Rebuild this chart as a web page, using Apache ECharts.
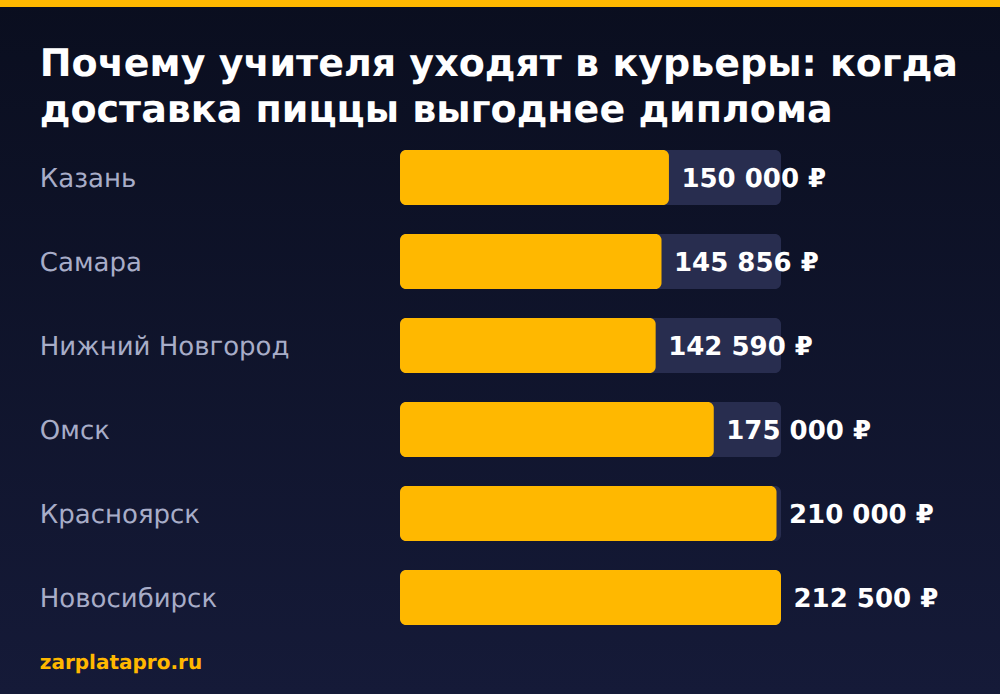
<!DOCTYPE html>
<html>
<head>
<meta charset="utf-8">
<style>html,body{margin:0;padding:0;background:#0a0e1f;}#chart{width:1000px;height:694px;text-rendering:geometricPrecision;}</style>
<script src="https://cdn.jsdelivr.net/npm/echarts@6/dist/echarts.min.js"></script>
</head>
<body>
<div id="chart"></div>
<script>
var titleLines = ['Почему учителя уходят в курьеры: когда', 'доставка пиццы выгоднее диплома'];
var cities = ['Казань', 'Самара', 'Нижний Новгород', 'Омск', 'Красноярск', 'Новосибирск'];
var salaries = [150000, 145856, 142590, 175000, 210000, 212500];
var valueLabels = ['150 000 ₽', '145 856 ₽', '142 590 ₽', '175 000 ₽', '210 000 ₽', '212 500 ₽'];
var maxSalary = 212500;
var fontName = 'DejaVu Sans';
var barHeight = 55;
var barRadius = 6;

// скругленный прямоугольник кривыми
function roundedBar(x0, x1, yc) {
	var r = barRadius, k = r * 0.45;
	var t = yc - barHeight / 2, b = yc + barHeight / 2;
	return 'M' + (x0 + r) + ' ' + t + 'L' + (x1 - r) + ' ' + t +
		'C' + (x1 - k) + ' ' + t + ' ' + x1 + ' ' + (t + k) + ' ' + x1 + ' ' + (t + r) +
		'L' + x1 + ' ' + (b - r) +
		'C' + x1 + ' ' + (b - k) + ' ' + (x1 - k) + ' ' + b + ' ' + (x1 - r) + ' ' + b +
		'L' + (x0 + r) + ' ' + b +
		'C' + (x0 + k) + ' ' + b + ' ' + x0 + ' ' + (b - k) + ' ' + x0 + ' ' + (b - r) +
		'L' + x0 + ' ' + (t + r) +
		'C' + x0 + ' ' + (t + k) + ' ' + (x0 + k) + ' ' + t + ' ' + (x0 + r) + ' ' + t + 'Z';
}

function renderBar(params, api) {
	var idx = api.value(1);
	var start = api.coord([0, idx]);
	var end = api.coord([api.value(0), idx]);
	var full = api.coord([maxSalary, idx]);
	return {
		type: 'group',
		children: [
			{type: 'path', shape: {pathData: roundedBar(start[0], full[0], start[1])}, style: {fill: '#282d4f'}},
			{type: 'path', shape: {pathData: roundedBar(start[0], end[0], start[1])}, style: {fill: '#ffb800'}},
			{
				type: 'text',
				x: end[0] + 12.5,
				y: start[1] + 1,
				style: {
					text: valueLabels[params.dataIndex],
					fill: '#fff',
					font: 'bold 26px "DejaVu Sans"',
					verticalAlign: 'middle'
				}
			}
		]
	};
}

// svg, чтобы text-rendering из css дошел до текста
var chart = echarts.init(document.getElementById('chart'), null, {renderer: 'svg'});

var option = {
	animation: false,
	backgroundColor: new echarts.graphic.LinearGradient(0, 0, 0, 1, [
		{offset: 0, color: '#0a0e1f'},
		{offset: 1, color: '#151a38'}
	]),
	graphic: [
		{type: 'rect', left: 0, top: 0, shape: {width: 1000, height: 7}, style: {fill: '#ffb800'}},
		{type: 'text', left: 39.8, top: 44, style: {text: titleLines[0], fill: '#fff', font: 'bold 38px "DejaVu Sans"'}},
		{type: 'text', left: 39.8, top: 90, style: {text: titleLines[1], fill: '#fff', font: 'bold 38px "DejaVu Sans"'}},
		{type: 'text', left: 39.8, top: 652, style: {text: 'zarplatapro.ru', fill: '#ffb800', font: 'bold 20px "DejaVu Sans"'}}
	],
	grid: {left: 400, top: 135.5, width: 381, height: 504, containLabel: false},
	xAxis: {type: 'value', min: 0, max: maxSalary, show: false},
	yAxis: {
		type: 'category',
		inverse: true,
		data: cities,
		axisLine: {show: false},
		axisTick: {show: false},
		axisLabel: {
			color: '#a8adc8',
			fontFamily: fontName,
			fontSize: 26,
			align: 'left',
			margin: 360.2,
			verticalAlign: 'top',
			lineHeight: 2
		}
	},
	series: [{
		type: 'custom',
		renderItem: renderBar,
		encode: {x: 0, y: 1},
		data: salaries.map(function (v, i) { return [v, i]; })
	}]
};
chart.setOption(option);
</script>
</body>
</html>
